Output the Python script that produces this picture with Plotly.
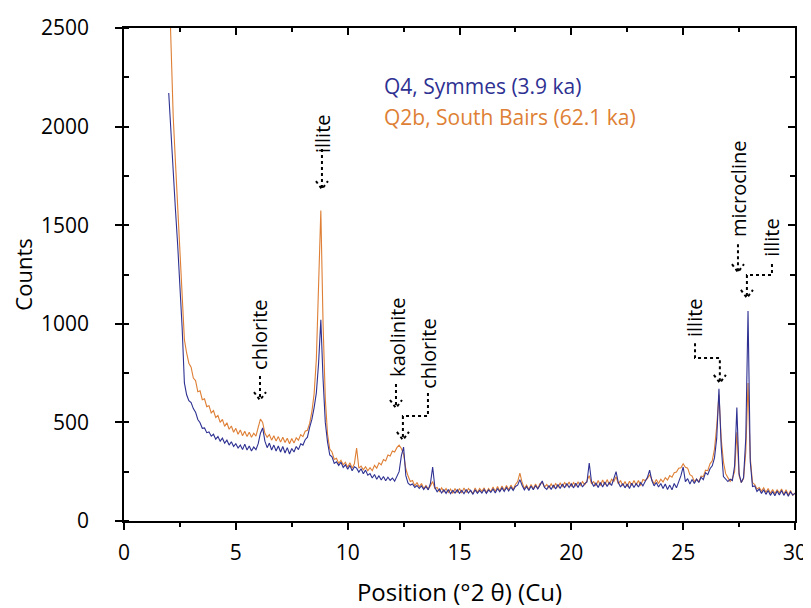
import numpy as np
import plotly.graph_objects as go

# ---------------- data ----------------
two_theta = np.round(np.arange(2.0, 30.05, 0.1), 1)  # measurement grid (deg 2-theta)

q4_symmes = [
    2170, 1950, 1730, 1580, 1400, 1200, 980, 700, 640, 610,
    600, 570, 552, 515, 498, 470, 472, 448, 452, 430,
    440, 415, 428, 405, 420, 395, 410, 385, 402, 378,
    392, 370, 385, 362, 390, 360, 380, 355, 375, 362,
    392, 445, 472, 405, 372, 395, 360, 385, 355, 380,
    350, 378, 345, 372, 340, 368, 350, 378, 362, 392,
    385, 412, 425, 475, 515, 575, 650, 800, 1020, 720,
    500, 400, 335, 325, 292, 300, 282, 298, 272, 285,
    262, 282, 255, 275, 268, 248, 265, 240, 258, 232,
    240, 218, 236, 212, 230, 208, 226, 204, 222, 206,
    218, 202, 225, 250, 330, 375, 230, 192, 182, 188,
    170, 180, 165, 178, 160, 175, 158, 190, 274, 170,
    148, 162, 142, 158, 140, 160, 138, 155, 142, 158,
    140, 155, 138, 160, 142, 156, 135, 158, 140, 155,
    142, 160, 140, 158, 145, 162, 142, 165, 148, 168,
    150, 170, 152, 172, 155, 175, 182, 210, 180, 158,
    175, 155, 178, 158, 180, 162, 182, 203, 170, 160,
    180, 160, 182, 162, 185, 165, 188, 168, 190, 170,
    188, 168, 192, 170, 195, 172, 190, 198, 294, 200,
    175, 192, 170, 195, 172, 198, 175, 195, 180, 215,
    250, 195, 172, 190, 168, 188, 165, 192, 170, 190,
    172, 195, 178, 200, 220, 258, 205, 178, 195, 172,
    190, 165, 188, 160, 182, 158, 190, 168, 195, 230,
    274, 200, 215, 188, 210, 190, 212, 195, 222, 210,
    245, 235, 265, 280, 320, 420, 670, 380, 225, 215,
    200, 212, 205, 280, 575, 240, 195, 220, 420, 1065,
    300, 175, 178, 150, 162, 140, 158, 135, 155, 130,
    150, 128, 152, 132, 155, 130, 150, 125, 148, 132,
    140,
]

q2b_south_bairs = [
    2800, 2380, 2050, 1820, 1600, 1360, 1100, 920, 852, 800,
    780, 725, 712, 655, 660, 615, 620, 580, 585, 548,
    560, 525, 535, 500, 515, 480, 498, 465, 482, 450,
    470, 440, 462, 432, 455, 428, 450, 425, 445, 430,
    475, 517, 500, 445, 425, 438, 410, 432, 405, 428,
    400, 425, 398, 420, 392, 418, 395, 422, 410, 438,
    428, 455, 460, 495, 555, 645, 820, 1150, 1575, 1000,
    620, 440, 365, 350, 312, 318, 292, 308, 285, 298,
    272, 295, 268, 290, 370, 268, 278, 260, 275, 255,
    270, 255, 282, 268, 295, 285, 312, 305, 335, 330,
    355, 350, 372, 385, 368, 340, 265, 228, 200, 205,
    178, 195, 172, 190, 165, 180, 162, 178, 200, 165,
    170, 150, 168, 148, 165, 145, 162, 140, 165, 145,
    165, 142, 168, 145, 165, 150, 140, 168, 145, 165,
    150, 168, 145, 165, 148, 172, 150, 175, 152, 178,
    155, 180, 158, 182, 160, 185, 200, 243, 195, 165,
    182, 160, 185, 162, 188, 165, 190, 195, 172, 185,
    168, 188, 170, 190, 172, 192, 175, 195, 178, 198,
    175, 195, 178, 198, 180, 200, 182, 205, 230, 190,
    200, 178, 205, 180, 208, 182, 210, 185, 212, 200,
    225, 188, 205, 178, 200, 175, 202, 180, 205, 182,
    205, 180, 210, 205, 215, 235, 212, 188, 210, 190,
    212, 198, 220, 208, 230, 222, 245, 248, 268, 270,
    290, 272, 268, 235, 228, 200, 212, 198, 228, 225,
    258, 255, 290, 305, 365, 480, 640, 420, 300, 240,
    220, 200, 215, 250, 450, 230, 195, 215, 350, 700,
    320, 195, 185, 162, 170, 152, 168, 145, 165, 140,
    160, 138, 158, 142, 162, 135, 158, 132, 155, 130,
    142,
]

series_names = ["Q4, Symmes (3.9 ka)", "Q2b, South Bairs (62.1 ka)"]
x_ticks = [0, 5, 10, 15, 20, 25, 30]
y_ticks = [0, 500, 1000, 1500, 2000, 2500]

BLUE = "#2E3192"
ORANGE = "#DE7F35"
FONT = "Open Sans, Noto Sans, sans-serif"

fig = go.Figure()
fig.add_trace(go.Scatter(x=two_theta, y=q2b_south_bairs, mode="lines",
                         line=dict(color=ORANGE, width=1.1), name=series_names[1],
                         showlegend=False))
fig.add_trace(go.Scatter(x=two_theta, y=q4_symmes, mode="lines",
                         line=dict(color=BLUE, width=1.1), name=series_names[0],
                         showlegend=False))
# invisible trace so mirrored (inside-tick) axes are drawn
fig.add_trace(go.Scatter(x=two_theta, y=q4_symmes, mode="lines", xaxis="x2", yaxis="y2",
                         line=dict(width=0), opacity=0, hoverinfo="skip", showlegend=False))

# ---------- mineral labels with dotted arrows ----------
PXX = 30 / 671.0      # deg per pixel
PXY = 2500 / 493.0    # counts per pixel

def dotted(path_pts):
    d = "M " + " L ".join(f"{x},{y}" for x, y in path_pts)
    fig.add_shape(type="path", path=d, xref="x", yref="y",
                  line=dict(color="black", width=2, dash="dot"))

def arrow(points):
    dotted(points)
    tx, ty = points[-1]
    hw, hh = 6 * PXX, 8 * PXY
    dotted([(tx - hw, ty + hh), (tx, ty), (tx + hw, ty + hh)])

labels = [
    ("chlorite", 6.03, 948, [(6.08, 735), (6.08, 613)]),
    ("illite", 8.85, 1967, [(8.85, 1886), (8.85, 1683)]),
    ("kaolinite", 12.2, 933, [(12.16, 695), (12.16, 573)]),
    ("chlorite", 13.63, 852, [(13.59, 649), (13.59, 532), (12.47, 532), (12.47, 411)]),
    ("illite", 25.48, 1034, [(25.53, 902), (25.53, 826), (26.64, 826), (26.64, 700)]),
    ("microcline", 27.45, 1688, [(27.45, 1404), (27.45, 1262)]),
    ("illite", 28.92, 1440, [(28.97, 1303), (28.97, 1247), (27.85, 1247), (27.85, 1131)]),
]
for text, lx, ly, pts in labels:
    fig.add_annotation(x=lx, y=ly, xref="x", yref="y", text=text, textangle=-90,
                       showarrow=False, xanchor="center", yanchor="middle",
                       font=dict(family=FONT, size=20, color="black"))
    arrow(pts)

# legend text
fig.add_annotation(x=11.53, y=2205, xref="x", yref="y", text=series_names[0],
                   showarrow=False, xanchor="left", yanchor="middle",
                   font=dict(family=FONT, size=21, color=BLUE))
fig.add_annotation(x=11.53, y=2048, xref="x", yref="y", text=series_names[1],
                   showarrow=False, xanchor="left", yanchor="middle",
                   font=dict(family=FONT, size=21, color=ORANGE))

axis_common = dict(showgrid=False, zeroline=False, linecolor="black", tickcolor="black",
                   tickwidth=1.5, automargin=False)
# the page body adds an 8px offset, so the figure is 8px smaller than the window
fig.update_layout(
    width=803, height=600,
    margin=dict(l=116, r=16, t=20, b=87),
    paper_bgcolor="white", plot_bgcolor="white",
    font=dict(family=FONT, color="black"),
    xaxis=dict(range=[0, 30], tickvals=x_ticks, ticks="outside", ticklen=7,
               showline=True, linewidth=1.5, mirror=True, ticklabelstandoff=5,
               minor=dict(dtick=2.5, ticks="outside", ticklen=4, tickcolor="black"),
               tickfont=dict(size=21), title=dict(text="Position (°2 θ) (Cu)",
                                                  font=dict(size=24), standoff=20),
               **axis_common),
    yaxis=dict(range=[0, 2500], tickvals=y_ticks, ticks="outside", ticklen=7,
               showline=True, linewidth=1.5, mirror=True, ticklabelstandoff=22,
               minor=dict(dtick=250, ticks="inside", ticklen=5, tickcolor="black"),
               tickfont=dict(size=21), title=dict(text="Counts", font=dict(size=22), standoff=8),
               **axis_common),
    xaxis2=dict(range=[0, 30], overlaying="x", side="top", anchor="y", tickvals=x_ticks,
                ticks="inside", ticklen=7, showticklabels=False, showline=False,
                minor=dict(dtick=2.5, ticks="inside", ticklen=4, tickcolor="black"),
                **axis_common),
    yaxis2=dict(range=[0, 2500], overlaying="y", side="right", anchor="x", tickvals=y_ticks,
                ticks="inside", ticklen=7, showticklabels=False, showline=False,
                minor=dict(dtick=250, ticks="inside", ticklen=5, tickcolor="black"),
                **axis_common),
)

fig.write_html("out.html")
